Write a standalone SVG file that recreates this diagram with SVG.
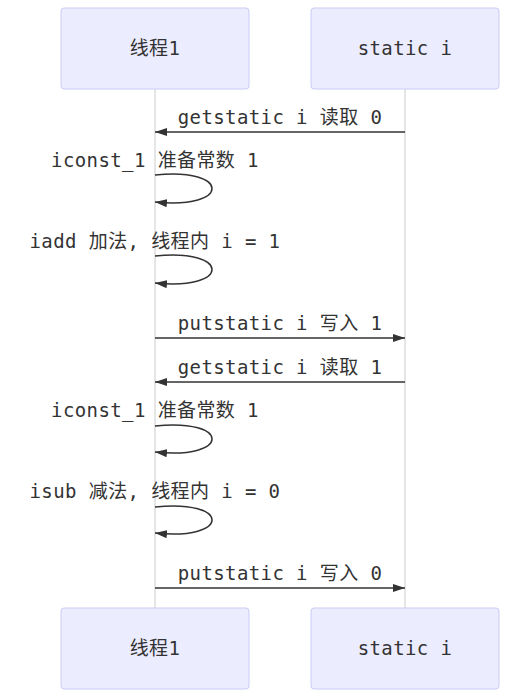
<svg xmlns="http://www.w3.org/2000/svg" width="529" height="698" viewBox="0 0 529 698">
<style>
.actor{fill:#ECECFF;stroke:#CCCCF5;stroke-width:1}
.life{stroke:#cccccc;stroke-width:1}
.t{font-family:"DejaVu Sans Mono","Noto Sans CJK SC",monospace;font-size:19px;letter-spacing:0.4px;fill:#333;text-anchor:middle}
.msg{stroke:#333;stroke-width:1.5;fill:none}
</style>
<defs>
<marker id="ah" viewBox="0 0 12 8" refX="12" refY="4" markerWidth="12" markerHeight="8" markerUnits="userSpaceOnUse" orient="auto">
<path d="M0,0 L12,4 L0,8 z" fill="#333"/>
</marker>
</defs>
<rect width="529" height="698" fill="#ffffff"/>
<g id="lifelines">
<line class="life" x1="155" y1="89" x2="155" y2="608"/>
<line class="life" x1="405" y1="89" x2="405" y2="608"/>
</g>
<g id="actor-thread-top">
<rect class="actor" x="61" y="8" width="188" height="81" rx="3"/>
<text class="t" x="155" y="55">线程1</text>
</g>
<g id="actor-static-top">
<rect class="actor" x="311" y="8" width="188" height="81" rx="3"/>
<text class="t" x="405" y="55">static i</text>
</g>
<g id="actor-thread-bottom">
<rect class="actor" x="61" y="608" width="188" height="81" rx="3"/>
<text class="t" x="155" y="655">线程1</text>
</g>
<g id="actor-static-bottom">
<rect class="actor" x="311" y="608" width="188" height="81" rx="3"/>
<text class="t" x="405" y="655">static i</text>
</g>
<g id="connectors">
<line class="msg" x1="405" y1="132" x2="155" y2="132" marker-end="url(#ah)"/>
<path class="msg" d="M155,175 C231,167 231,210 155,202" marker-end="url(#ah)"/>
<path class="msg" d="M155,256 C231,248 231,291 155,283" marker-end="url(#ah)"/>
<line class="msg" x1="155" y1="338" x2="405" y2="338" marker-end="url(#ah)"/>
<line class="msg" x1="405" y1="382" x2="155" y2="382" marker-end="url(#ah)"/>
<path class="msg" d="M155,426 C231,418 231,460 155,452" marker-end="url(#ah)"/>
<path class="msg" d="M155,507 C231,499 231,541 155,533" marker-end="url(#ah)"/>
<line class="msg" x1="155" y1="588" x2="405" y2="588" marker-end="url(#ah)"/>
</g>
<g id="labels">
<text class="t" x="280" y="124">getstatic i 读取 0</text>
<text class="t" x="155" y="167">iconst_1 准备常数 1</text>
<text class="t" x="155" y="248">iadd 加法, 线程内 i = 1</text>
<text class="t" x="280" y="330">putstatic i 写入 1</text>
<text class="t" x="280" y="374">getstatic i 读取 1</text>
<text class="t" x="155" y="417">iconst_1 准备常数 1</text>
<text class="t" x="155" y="498">isub 减法, 线程内 i = 0</text>
<text class="t" x="280" y="580">putstatic i 写入 0</text>
</g>
</svg>
